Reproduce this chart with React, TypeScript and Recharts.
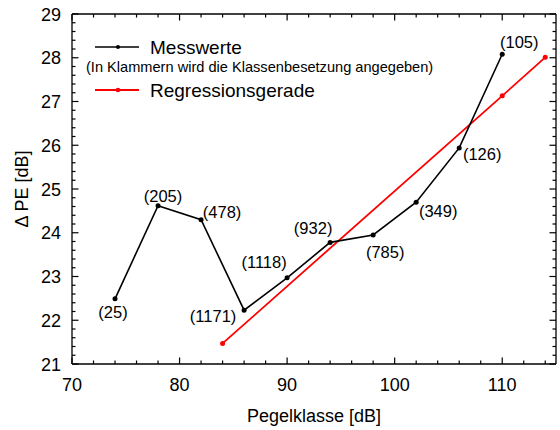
import { LineChart, Line, XAxis, YAxis, Legend, LabelList, ReferenceLine } from 'recharts';

const FONT = '"Liberation Sans", Arial, Helvetica, sans-serif';

// Messwerte (Pegelklasse, Delta PE, Klassenbesetzung)
const X_MEASURED = [74, 78, 82, 86, 90, 94, 98, 102, 106, 110];
const Y_MEASURED = [22.49, 24.62, 24.3, 22.23, 22.97, 23.78, 23.95, 24.7, 25.94, 28.08];
const COUNTS = [25, 205, 478, 1171, 1118, 932, 785, 349, 126, 105];

// Regressionsgerade
const X_REGRESSION = [84, 110, 114];
const Y_REGRESSION = [21.47, 27.13, 28.01];

const X_TICK_LABELS = [70, 80, 90, 100, 110];
const Y_TICK_LABELS = [21, 22, 23, 24, 25, 26, 27, 28, 29];

const X_MIN = 70;
const X_MAX = 115;
const Y_MIN = 21;
const Y_MAX = 29;

// where each count label sits relative to its point (px)
const LABEL_OFFSETS = [
  [-2, 13], [5, -10], [21, -8], [-31, 6], [-23, -16],
  [-17, -14], [12, 17], [22, 9], [23, 6], [17, -12],
];

const measured = X_MEASURED.map((x, i) => ({ x, y: Y_MEASURED[i], n: COUNTS[i] }));
const regression = X_REGRESSION.map((x, i) => ({ x, y: Y_REGRESSION[i] }));

// minor ticks: every 2 dB on x, every 0.2 dB on y
const xTicks: number[] = [];
for (let v = 70; v <= 114; v += 2) xTicks.push(v);
const yTicks: number[] = [];
for (let i = 0; i <= 40; i++) yTicks.push(Math.round((21 + i * 0.2) * 10) / 10);

// chart geometry, used to turn tick lengths in px into data units
const MARGIN = { top: 15, right: 4, bottom: 66, left: 72 };
const W = 560;
const H = 430;
const PX_PER_X = (W - MARGIN.left - MARGIN.right) / (X_MAX - X_MIN);
const PX_PER_Y = (H - MARGIN.top - MARGIN.bottom) / (Y_MAX - Y_MIN);
const MAJOR = 6.5;
const MINOR = 3.5;

const BottomTick = ({ x, y, payload }: any) =>
  X_TICK_LABELS.includes(payload.value) ? (
    <text x={x} y={y + 27} textAnchor="middle" fontSize={18} fontFamily={FONT} fill="#000">
      {payload.value}
    </text>
  ) : (
    <g />
  );

const LeftTick = ({ x, y, payload }: any) =>
  Y_TICK_LABELS.includes(payload.value) ? (
    <text x={x - 11} y={y + 6.5} textAnchor="end" fontSize={18} fontFamily={FONT} fill="#000">
      {payload.value}
    </text>
  ) : (
    <g />
  );

const CountLabel = (props: any) => {
  const vb = props.viewBox || {};
  const px = props.x ?? vb.x;
  const py = props.y ?? vb.y;
  const off = LABEL_OFFSETS[props.index] || [0, -12];
  return (
    <text
      x={px + off[0]}
      y={py + off[1]}
      textAnchor="middle"
      dominantBaseline="central"
      fontSize={16.5}
      fontFamily={FONT}
      fill="#000"
    >
      ({props.value})
    </text>
  );
};

const LegendBox = () => (
  <svg width={380} height={80} style={{ display: 'block', fontFamily: FONT }}>
    <line x1={15} y1={22} x2={59} y2={22} stroke="#000" strokeWidth={1.6} />
    <circle cx={38} cy={22} r={2} fill="#000" />
    <text x={70} y={28.5} fontSize={19} fill="#000">Messwerte</text>
    <text x={6} y={46.8} fontSize={14.6} fill="#000">(In Klammern wird die Klassenbesetzung angegeben)</text>
    <line x1={15} y1={65} x2={59} y2={65} stroke="#ff0000" strokeWidth={1.8} />
    <circle cx={38} cy={65} r={2.3} fill="#ff0000" />
    <text x={70} y={71.7} fontSize={19} fill="#000">Regressionsgerade</text>
  </svg>
);

// inward tick marks on all four sides of the frame
const tickMarks = () => {
  const out: any[] = [];
  xTicks.forEach((v) => {
    const len = (X_TICK_LABELS.includes(v) ? MAJOR : MINOR) / PX_PER_Y;
    out.push(
      <ReferenceLine key={`b${v}`} segment={[{ x: v, y: Y_MIN }, { x: v, y: Y_MIN + len }]} stroke="#000" strokeWidth={1.2} ifOverflow="visible" />,
      <ReferenceLine key={`t${v}`} segment={[{ x: v, y: Y_MAX }, { x: v, y: Y_MAX - len }]} stroke="#000" strokeWidth={1.2} ifOverflow="visible" />,
    );
  });
  yTicks.forEach((v) => {
    const len = (Y_TICK_LABELS.includes(v) ? MAJOR : MINOR) / PX_PER_X;
    out.push(
      <ReferenceLine key={`l${v}`} segment={[{ x: X_MIN, y: v }, { x: X_MIN + len, y: v }]} stroke="#000" strokeWidth={1.2} ifOverflow="visible" />,
      <ReferenceLine key={`r${v}`} segment={[{ x: X_MAX, y: v }, { x: X_MAX - len, y: v }]} stroke="#000" strokeWidth={1.2} ifOverflow="visible" />,
    );
  });
  return out;
};

const App = () => {
  return (
    <div style={{ position: 'absolute', left: 0, top: 0, background: '#fff' }}>
      <LineChart width={W} height={H} margin={{ top: MARGIN.top - 1, right: MARGIN.right, bottom: MARGIN.bottom - 1, left: MARGIN.left - 1 }}>
        <XAxis
          type="number"
          dataKey="x"
          domain={[X_MIN, X_MAX]}
          allowDataOverflow
          ticks={xTicks}
          interval={0}
          height={1}
          tickSize={0}
          tickMargin={0}
          tickLine={false}
          tick={(p: any) => <BottomTick {...p} />}
          axisLine={{ stroke: '#000', strokeWidth: 1.3 }}
          label={{
            value: 'Pegelklasse [dB]',
            position: 'bottom',
            offset: 44,
            style: { fontSize: 18, fontFamily: FONT, fill: '#000' },
          }}
        />
        <YAxis
          type="number"
          domain={[Y_MIN, Y_MAX]}
          allowDataOverflow
          ticks={yTicks}
          interval={0}
          width={1}
          tickSize={0}
          tickMargin={0}
          tickLine={false}
          tick={(p: any) => <LeftTick {...p} />}
          axisLine={{ stroke: '#000', strokeWidth: 1.3 }}
          label={{
            value: 'Δ PE [dB]',
            angle: -90,
            position: 'insideLeft',
            offset: -49,
            style: { textAnchor: 'middle', fontSize: 18, fontFamily: FONT, fill: '#000' },
          }}
        />
        <ReferenceLine y={Y_MAX} stroke="#000" strokeWidth={1.3} ifOverflow="visible" />
        <ReferenceLine x={X_MAX} stroke="#000" strokeWidth={1.3} ifOverflow="visible" />
        {tickMarks()}
        <Legend
          layout="vertical"
          align="center"
          verticalAlign="middle"
          content={() => <LegendBox />}
          wrapperStyle={{ left: 80, top: 25, width: 380, height: 80 }}
        />
        <Line
          data={regression}
          dataKey="y"
          name="Regressionsgerade"
          type="linear"
          stroke="#ff0000"
          strokeWidth={1.8}
          dot={{ r: 2.5, fill: '#ff0000', stroke: 'none' }}
          activeDot={false}
          isAnimationActive={false}
        />
        <Line
          data={measured}
          dataKey="y"
          name="Messwerte"
          type="linear"
          stroke="#000"
          strokeWidth={1.6}
          dot={{ r: 2.5, fill: '#000', stroke: 'none' }}
          activeDot={false}
          isAnimationActive={false}
        >
          <LabelList dataKey="n" content={<CountLabel />} />
        </Line>
      </LineChart>
    </div>
  );
};

export default App;
